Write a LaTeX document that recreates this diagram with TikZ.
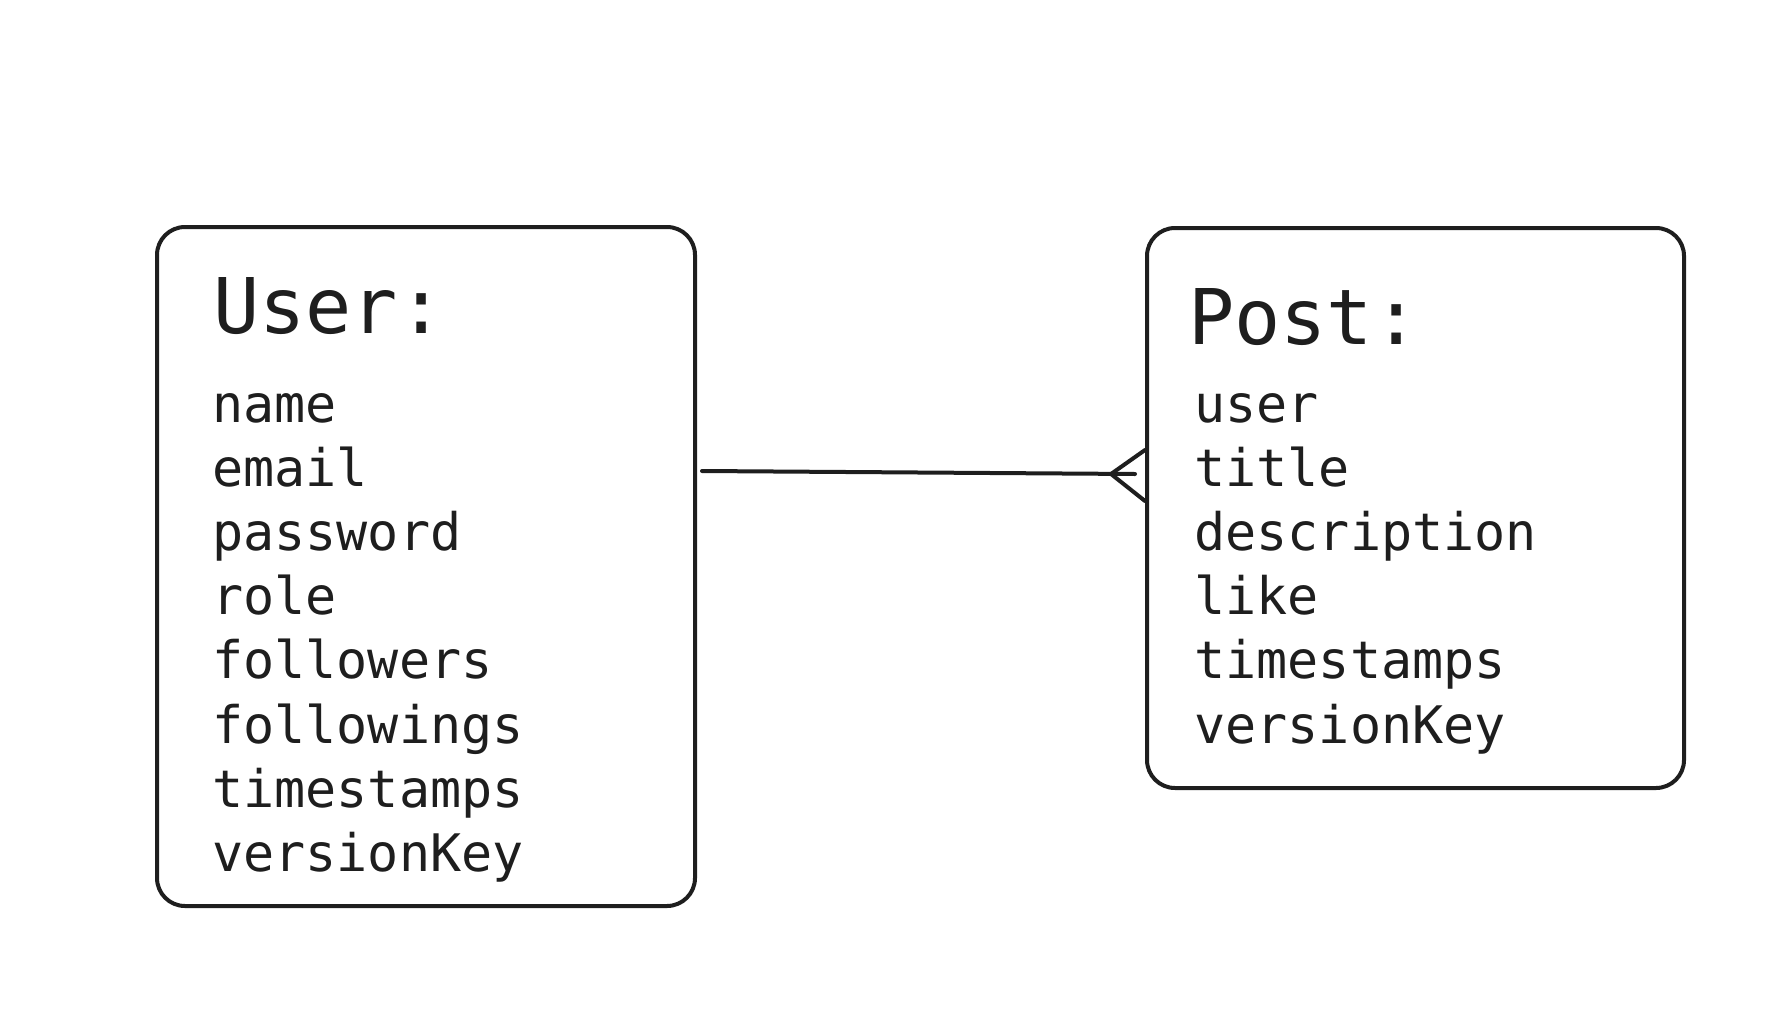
\documentclass[tikz,border=0pt]{standalone}
\usepackage{fontspec}
\newfontfamily\codefont{DejaVu Sans Mono}
\definecolor{ink}{HTML}{1E1E1E}
\begin{document}
\begin{tikzpicture}[x=0.75pt,y=-0.75pt,
  entity/.style={draw=ink,line width=3pt,rounded corners=21pt,rectangle,inner sep=0pt},
  titletext/.style={anchor=base west,inner sep=0pt,text=ink,font=\codefont\fontsize{57.6}{67}\selectfont},
  attrtext/.style={anchor=base west,inner sep=0pt,text=ink,font=\codefont\fontsize{38.8}{48}\selectfont},
  rel/.style={draw=ink,line width=3pt,line cap=round,line join=round}]
\useasboundingbox (0,0) rectangle (1787,1024);
% boxes
\node[entity,minimum width=403.5pt,minimum height=509.25pt] (user) at (426,566.5) {};
\node[entity,minimum width=402.75pt,minimum height=420pt] (post) at (1415.5,508) {};
% user texts
\node[titletext] (usertitle) at (213,333) {User:};
\node[attrtext] (u1) at (212,422) {name};
\node[attrtext] (u2) at (212,486.2) {email};
\node[attrtext] (u3) at (212,550.4) {password};
\node[attrtext] (u4) at (212,614.6) {role};
\node[attrtext] (u5) at (212,678.8) {followers};
\node[attrtext] (u6) at (212,743) {followings};
\node[attrtext] (u7) at (212,807.2) {timestamps};
\node[attrtext] (u8) at (212,871.4) {versionKey};
% post texts
\node[titletext] (posttitle) at (1188,344) {Post:};
\node[attrtext] (p1) at (1194,422) {user};
\node[attrtext] (p2) at (1194,486.2) {title};
\node[attrtext] (p3) at (1194,550.4) {description};
\node[attrtext] (p4) at (1194,614.6) {like};
\node[attrtext] (p5) at (1194,678.8) {timestamps};
\node[attrtext] (p6) at (1194,743) {versionKey};
% relation
\coordinate (relstart) at (702,471);
\coordinate (relend) at (1135,474);
\coordinate (apex) at (1111,474);
\coordinate (prongtop) at (1147,450);
\coordinate (prongbot) at (1147,501);
\draw[rel] (relstart) -- (relend);
\draw[rel] (post.west |- prongtop) -- (apex) -- (post.west |- prongbot);
\end{tikzpicture}
\end{document}
